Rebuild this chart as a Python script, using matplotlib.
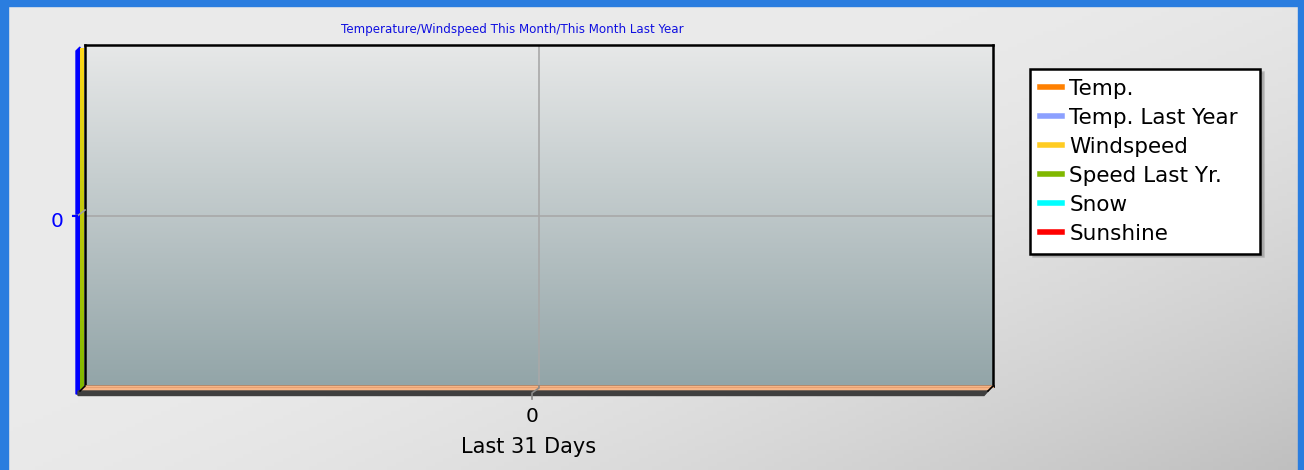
import numpy as np
import matplotlib
matplotlib.use('agg')
import matplotlib.pyplot as plt
from matplotlib.patches import Rectangle, Polygon
from matplotlib.lines import Line2D
import matplotlib.transforms as mtransforms

# chart data (no observations in the last 31 days)
seriesNames = ["Temp.", "Temp. Last Year", "Windspeed", "Speed Last Yr.", "Snow", "Sunshine"]
seriesColors = ["#ff8000", "#8ca0ff", "#ffcc22", "#80b800", "#00ffff", "#ff0000"]
days = []
temp = []
tempLastYear = []
windspeed = []
speedLastYr = []
snow = []
sunshine = []
xTicks = [0]
yTicks = [0]

W, H = 1304, 470
fig = plt.figure(figsize=(W / 100, H / 100), dpi=100)

def fx(px):
    return px / W

def fy(py):
    return 1 - py / H

# figure background gradient
bg = fig.add_axes([0, 0, 1, 1], zorder=-10)
bg.set_axis_off()
xx, yy = np.meshgrid(np.linspace(0, 1, 300), np.linspace(0, 1, 120))
t = np.clip((xx * 0.6 + yy * 0.5 - 0.45) / 0.65, 0, 1) ** 1.6
shade = 0.918 - 0.17 * t
bg.imshow(np.dstack([shade, shade, shade]), extent=[0, 1, 0, 1], aspect='auto', origin='upper')
bg.set_xlim(0, 1)
bg.set_ylim(0, 1)

# blue window border
blue = "#2a7ddf"
for r in [(0, 0, 8, H), (0, 0, W, 6), (W - 6, 0, 6, H)]:
    fig.patches.append(Rectangle((fx(r[0]), fy(r[1] + r[3])), r[2] / W, r[3] / H,
                                 transform=fig.transFigure, color=blue, zorder=5))

# plot area
left, top, right, bottom = 85, 45, 993, 386
ax = fig.add_axes([fx(left), fy(bottom), (right - left) / W, (bottom - top) / H])
grad = np.linspace(0, 1, 200)[:, None]
top_c = np.array([0.905, 0.910, 0.910])
bot_c = np.array([0.576, 0.647, 0.659])
img = top_c + (bot_c - top_c) * grad[..., None]
img = np.repeat(img, 2, axis=1)
ax.imshow(img, extent=[0, 1, 0, 1], transform=ax.transAxes, aspect='auto', zorder=0)

lines = [temp, tempLastYear, windspeed, speedLastYr, snow, sunshine]
handles = []
for name, col, vals in zip(seriesNames, seriesColors, lines):
    h, = ax.plot(days, vals, color=col, lw=3, label=name)
    handles.append(h)

ax.set_xlim(-1, 1)
ax.set_ylim(-1, 1)
ax.set_xticks(xTicks)
ax.set_yticks(yTicks)
ax.grid(True, color="#a8a8a8", lw=1.2)
for s in ax.spines.values():
    s.set_linewidth(1.8)
    s.set_color("black")
ax.tick_params(axis='y', length=0, pad=21, labelsize=14.5, labelcolor="#0000ff")
ax.tick_params(axis='x', length=0, pad=15, labelsize=14.5)
ax.set_xlabel("Last 31 Days", fontsize=15, labelpad=8)
off = mtransforms.ScaledTranslation(-7 / 100, 0, fig.dpi_scale_trans)
for lbl in ax.get_xticklabels():
    lbl.set_transform(lbl.get_transform() + off)
offy = mtransforms.ScaledTranslation(8 / 100, -4 / 100, fig.dpi_scale_trans)
for lbl in ax.get_yticklabels():
    lbl.set_transform(lbl.get_transform() + offy)
off2 = mtransforms.ScaledTranslation(-10 / 100, 0, fig.dpi_scale_trans)
ax.xaxis.label.set_transform(ax.xaxis.label.get_transform() + off2)

# 3D walls: left (blue / yellow-green) and floor (peach / dark)
wall = fig.add_axes([0, 0, 1, 1], zorder=3)
wall.set_axis_off()
wall.set_xlim(0, W)
wall.set_ylim(H, 0)
wall.add_patch(Polygon([(76, 51), (80, 47), (80, 394), (76, 394)], closed=True, color="#0000ff"))
ygrad = np.linspace(0, 1, 100)[:, None]
ycol = np.array([1.0, 0.85, 0.1]) + (np.array([0.5, 0.72, 0.0]) - np.array([1.0, 0.85, 0.1])) * ygrad[..., None]
wall.imshow(np.repeat(ycol, 2, axis=1), extent=[80, 84, 389, 48], aspect='auto', zorder=1)
wall.add_patch(Polygon([(80, 391), (85, 386), (993, 386), (988, 391)], closed=True, color="#f7b689", zorder=2))
wall.add_line(Line2D([84, 993], [387, 387], color="#e8a070", lw=0.8, zorder=2))
wall.add_patch(Polygon([(78, 391), (988, 391), (984, 395.5), (78, 395.5)], closed=True, color="#3f3f3f", zorder=2))
wall.plot([80, 85], [391, 386], color="black", lw=1.2, zorder=3)
wall.plot([988, 993], [391, 386], color="black", lw=1.2, zorder=3)
# grid continuation across the walls + ticks
wall.plot([73, 78, 85], [215.5, 215.5, 210], color="#a0a0a0", lw=1.2, zorder=4)
wall.plot([73, 77], [215.5, 215.5], color="#0000ff", lw=1.5, zorder=4)
wall.plot([539, 539, 532, 532], [386, 388, 393, 399], color="#8a8a8a", lw=1.2, zorder=4)

fig.text(fx(512), fy(30), "Temperature/Windspeed This Month/This Month Last Year",
         ha='center', va='center', fontsize=8.6, color="#1010e0")

leg = fig.legend(handles=handles, loc='upper left',
                 bbox_to_anchor=(fx(1030), fy(252), 230 / W, 183 / H), mode='expand',
                 frameon=True, fancybox=False, shadow={'color': '#909090', 'alpha': 0.5},
                 fontsize=15.5, handlelength=1.05, handletextpad=0.32, labelspacing=0.42,
                 borderpad=0.45, borderaxespad=0)
leg.get_frame().set_edgecolor("black")
leg.get_frame().set_linewidth(1.8)
for h in leg.legend_handles:
    h.set_linewidth(4)

fig.savefig("out.png", dpi=100)
